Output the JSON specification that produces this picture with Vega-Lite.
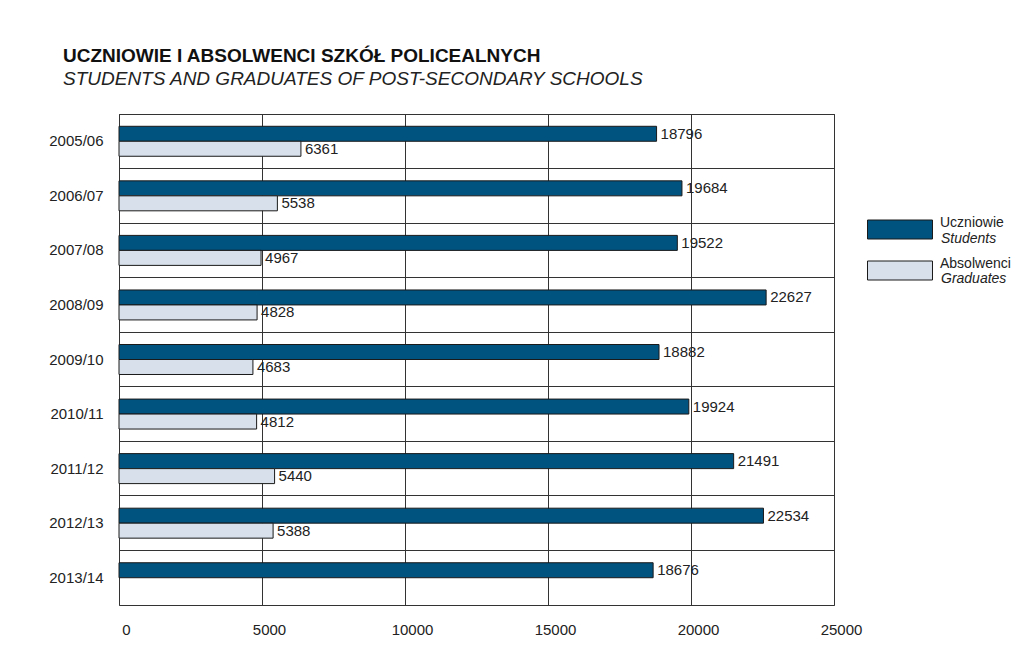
{
  "$schema": "https://vega.github.io/schema/vega-lite/v6.json",
  "width": 715,
  "height": 491,
  "autosize": {"type": "none"},
  "padding": {"left": 119, "top": 114, "right": 181, "bottom": 61},
  "background": "white",
  "title": {
    "text": "UCZNIOWIE I ABSOLWENCI SZKÓŁ POLICEALNYCH",
    "subtitle": "STUDENTS AND GRADUATES OF POST-SECONDARY SCHOOLS",
    "anchor": "start",
    "frame": "group",
    "dx": -56,
    "offset": 25,
    "font": "Liberation Sans",
    "fontSize": 19,
    "fontWeight": "bold",
    "color": "#111",
    "subtitleFont": "Liberation Sans",
    "subtitleFontSize": 19,
    "subtitleFontStyle": "italic",
    "subtitleColor": "#222",
    "subtitlePadding": 4
  },
  "data": {
    "values": [
      {"year": "2005/06", "series": "Uczniowie", "series_en": "Students", "value": 18796},
      {"year": "2005/06", "series": "Absolwenci", "series_en": "Graduates", "value": 6361},
      {"year": "2006/07", "series": "Uczniowie", "series_en": "Students", "value": 19684},
      {"year": "2006/07", "series": "Absolwenci", "series_en": "Graduates", "value": 5538},
      {"year": "2007/08", "series": "Uczniowie", "series_en": "Students", "value": 19522},
      {"year": "2007/08", "series": "Absolwenci", "series_en": "Graduates", "value": 4967},
      {"year": "2008/09", "series": "Uczniowie", "series_en": "Students", "value": 22627},
      {"year": "2008/09", "series": "Absolwenci", "series_en": "Graduates", "value": 4828},
      {"year": "2009/10", "series": "Uczniowie", "series_en": "Students", "value": 18882},
      {"year": "2009/10", "series": "Absolwenci", "series_en": "Graduates", "value": 4683},
      {"year": "2010/11", "series": "Uczniowie", "series_en": "Students", "value": 19924},
      {"year": "2010/11", "series": "Absolwenci", "series_en": "Graduates", "value": 4812},
      {"year": "2011/12", "series": "Uczniowie", "series_en": "Students", "value": 21491},
      {"year": "2011/12", "series": "Absolwenci", "series_en": "Graduates", "value": 5440},
      {"year": "2012/13", "series": "Uczniowie", "series_en": "Students", "value": 22534},
      {"year": "2012/13", "series": "Absolwenci", "series_en": "Graduates", "value": 5388},
      {"year": "2013/14", "series": "Uczniowie", "series_en": "Students", "value": 18676}
    ]
  },
  "encoding": {
    "y": {
      "field": "year",
      "type": "nominal",
      "sort": null,
      "scale": {"paddingInner": 0, "paddingOuter": 0},
      "axis": {
        "title": null,
        "ticks": false,
        "domain": false,
        "grid": true,
        "bandPosition": 0,
        "gridColor": "#333",
        "gridWidth": 1,
        "gridOpacity": 1,
        "labelFont": "Liberation Sans",
        "labelFontSize": 15,
        "labelColor": "#222",
        "labelPadding": 16
      }
    },
    "yOffset": {
      "field": "series",
      "type": "nominal",
      "sort": ["Uczniowie", "Absolwenci"],
      "scale": {"domain": ["Uczniowie", "Absolwenci"], "paddingInner": 0, "paddingOuter": 0.82}
    },
    "x": {
      "field": "value",
      "type": "quantitative",
      "scale": {"domain": [0, 25000], "nice": false},
      "axis": {
        "title": null,
        "values": [0, 5000, 10000, 15000, 20000, 25000],
        "format": "d",
        "ticks": false,
        "domain": false,
        "grid": true,
        "gridColor": "#333",
        "gridWidth": 1,
        "gridOpacity": 1,
        "labelFont": "Liberation Sans",
        "labelFontSize": 15,
        "labelColor": "#222",
        "labelPadding": 17,
        "labelOffset": 7,
        "labelFlush": false
      }
    }
  },
  "layer": [
    {
      "mark": {"type": "bar", "stroke": "#1a1a1a", "strokeWidth": 1},
      "encoding": {
        "fill": {
          "field": "series",
          "type": "nominal",
          "scale": {"domain": ["Uczniowie", "Absolwenci"], "range": ["#00527f", "#d7e0eb"]},
          "legend": {
            "title": null,
            "orient": "none",
            "legendX": 771,
            "legendY": 105.5,
            "padding": 0,
            "symbolType": "M-3.42,-1H3.42V1H-3.42Z",
            "symbolSize": 361,
            "symbolStrokeColor": "#1a1a1a",
            "symbolStrokeWidth": 1,
            "labelFont": "Liberation Sans",
            "labelFontSize": 14,
            "labelColor": "#222",
            "labelOffset": 30,
            "labelBaseline": "bottom",
            "rowPadding": 15
          }
        }
      }
    },
    {
      "mark": {"type": "text", "align": "left", "baseline": "middle", "dx": 4, "font": "Liberation Sans", "fontSize": 15, "fill": "#222", "strokeWidth": 0},
      "encoding": {
        "text": {"field": "value", "type": "quantitative", "format": "d"},
        "stroke": {
          "field": "series_en",
          "type": "nominal",
          "scale": {"domain": ["Students", "Graduates"], "range": ["transparent", "transparent"]},
          "legend": {
            "title": null,
            "orient": "none",
            "legendX": 771,
            "legendY": 107.5,
            "padding": 0,
            "symbolType": "M-3.42,-1H3.42V1H-3.42Z",
            "symbolSize": 361,
            "symbolFillColor": "transparent",
            "symbolStrokeColor": "transparent",
            "symbolOpacity": 0,
            "labelFont": "Liberation Sans",
            "labelFontSize": 14,
            "labelFontStyle": "italic",
            "labelColor": "#222",
            "labelOffset": 30,
            "labelBaseline": "top",
            "rowPadding": 15
          }
        }
      }
    }
  ],
  "config": {
    "view": {"stroke": "#333", "strokeWidth": 1},
    "font": "Liberation Sans"
  }
}
